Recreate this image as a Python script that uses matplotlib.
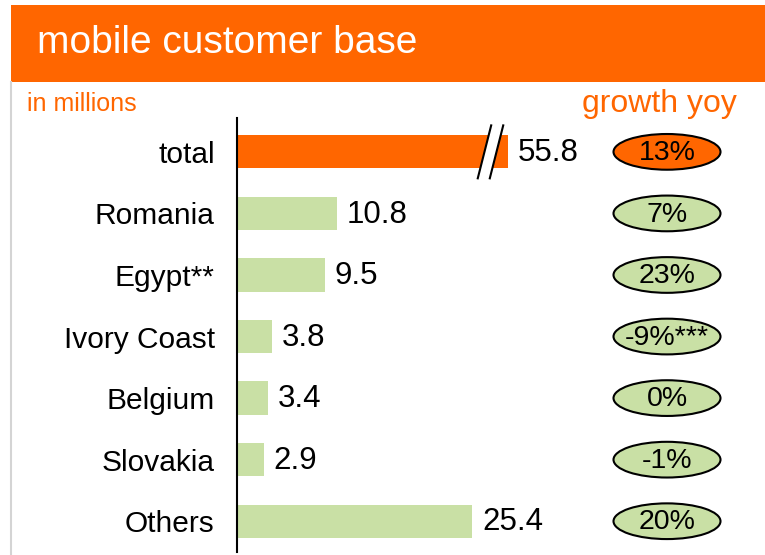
import matplotlib.pyplot as plt
from matplotlib.patches import Ellipse, Rectangle, Polygon
from matplotlib.lines import Line2D

W, H = 765, 555
ORANGE = '#ff6600'
GREEN = '#c9e0a5'

countries = ['total', 'Romania', 'Egypt**', 'Ivory Coast', 'Belgium', 'Slovakia', 'Others']
customers = [55.8, 10.8, 9.5, 3.8, 3.4, 2.9, 25.4]
growth = ['13%', '7%', '23%', '-9%***', '0%', '-1%', '20%']

# the total bar is cut short with a break mark
BREAK_AT = 29.3


def px(x, y):
    # pixel coords (from top-left) to figure fraction
    return x / W, 1 - y / H


def main():
    fig = plt.figure(figsize=(W / 100, H / 100), dpi=100)
    plt.rcParams['font.family'] = ['Liberation Sans', 'DejaVu Sans']

    # header
    fig.patches.append(Rectangle(px(11, 82), (W - 11) / W, 77 / H, transform=fig.transFigure,
                                 facecolor=ORANGE, edgecolor='none'))
    fig.lines.append(Line2D([11 / W, 11 / W], [1 - 82 / H, 0], transform=fig.transFigure,
                            color='#d4d4d4', lw=1.5))
    fig.text(*px(37, 43), 'mobile customer base', color='white', fontsize=28, va='center', ha='left')
    fig.text(*px(27, 104), 'in millions', color=ORANGE, fontsize=18, va='center', ha='left')
    fig.text(*px(737, 104), 'growth yoy', color=ORANGE, fontsize=23, va='center', ha='right')

    left, right, top, bottom = 237, 765, 118, 552
    ax = fig.add_axes([left / W, 1 - bottom / H, (right - left) / W, (bottom - top) / H])
    scale = 9.26  # px per million
    ax.set_xlim(0, (right - left) / scale)
    ax.set_ylim(6.5, -0.55)
    for s in ['top', 'right', 'bottom']:
        ax.spines[s].set_visible(False)
    ax.spines['left'].set_linewidth(1.5)
    ax.set_xticks([])
    ax.set_yticks(range(len(countries)))
    ax.set_yticklabels(countries, fontsize=21.5)
    ax.tick_params(axis='y', length=0, pad=16)

    shown = [min(v, BREAK_AT) for v in customers]
    colors = [ORANGE] + [GREEN] * (len(customers) - 1)
    ax.barh(range(len(countries)), shown, height=0.54, color=colors)

    for i, (v, s) in enumerate(zip(customers, shown)):
        ax.text(s + 1.05, i + 0.02, f'{v:.1f}', fontsize=22.5, va='center', ha='left')

    # break mark on the total bar
    dx = 1.45
    x0 = BREAK_AT - 3.3
    y_lo, y_hi = 0.43, -0.43
    ax.add_patch(Polygon([(x0, y_lo), (x0 + dx, y_hi), (x0 + dx + 1.3, y_hi), (x0 + 1.3, y_lo)],
                         closed=True, facecolor='white', edgecolor='none', zorder=3))
    for off in (0, 1.3):
        ax.plot([x0 + off, x0 + off + dx], [y_lo, y_hi], color='black', lw=1.5, zorder=4,
                clip_on=False)

    cx = (667 - left) / scale
    for i, g in enumerate(growth):
        fc = ORANGE if i == 0 else GREEN
        ax.add_patch(Ellipse((cx, i), 107 / scale, 0.58, facecolor=fc, edgecolor='black', lw=1.5,
                             clip_on=False))
        ax.text(cx, i + 0.02, g, fontsize=20.5, va='center', ha='center')

    fig.savefig('out.png', dpi=100)


if __name__ == '__main__':
    main()
